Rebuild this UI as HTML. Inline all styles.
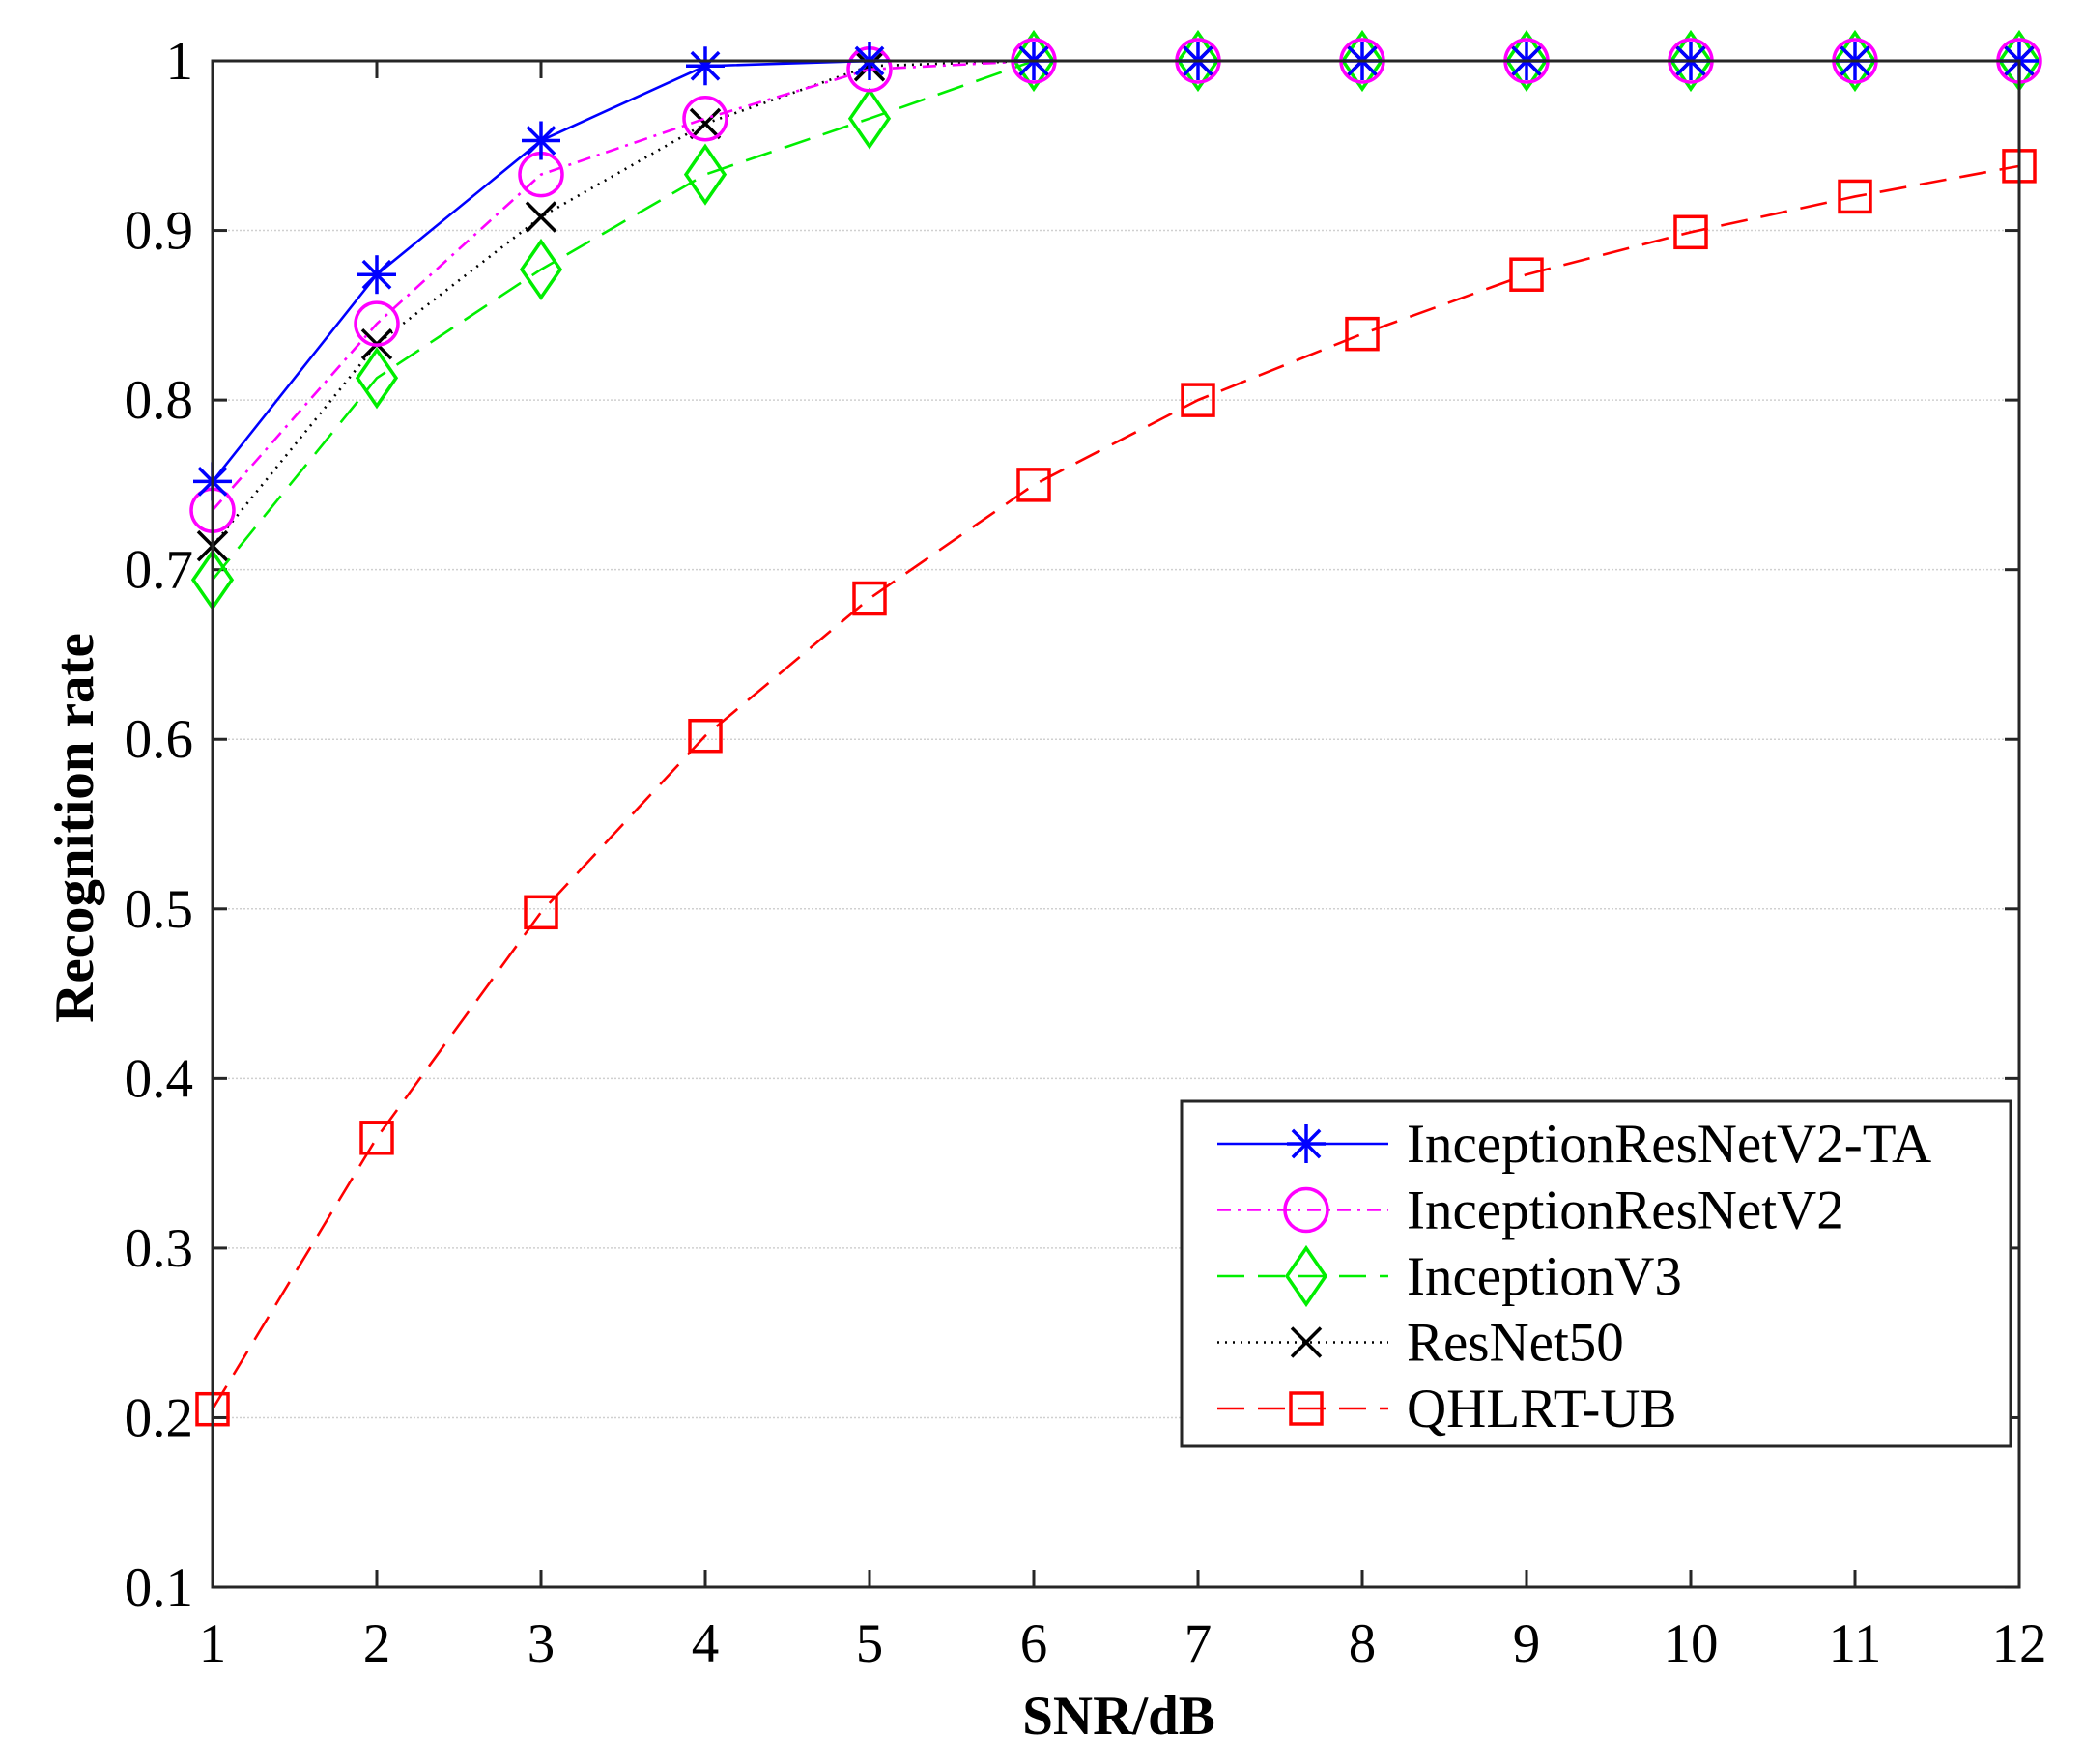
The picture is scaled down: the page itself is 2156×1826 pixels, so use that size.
<!DOCTYPE html>
<html><head><meta charset="utf-8"><style>body{margin:0;background:#fff}svg{display:block}</style></head>
<body>
<svg id="s" width="2156" height="1826" xmlns="http://www.w3.org/2000/svg" font-family="Liberation Serif, serif"></svg>
<script>
const s=document.getElementById('s');
const X=i=>220+(i-1)*170, Y=v=>63+(1-v)*1755.6;
let h='';
for(let k=1;k<=9;k++){const y=Y(0.1+k*0.1);h+=`<line x1="220" x2="2090" y1="${y}" y2="${y}" stroke="#d0d0d0" stroke-width="1.5" stroke-dasharray="2,2"/>`;}
for(let k=0;k<=9;k++){const v=(0.1+k*0.1),y=Y(v);h+=`<line x1="220" x2="235" y1="${y}" y2="${y}" stroke="#262626" stroke-width="3"/><line x1="2075" x2="2090" y1="${y}" y2="${y}" stroke="#262626" stroke-width="3"/>`;
h+=`<text x="200" y="${y+19}" font-size="57" text-anchor="end">${k==9?'1':v.toFixed(1)}</text>`;}
for(let i=1;i<=12;i++){const x=X(i);h+=`<line x1="${x}" x2="${x}" y1="63" y2="81" stroke="#262626" stroke-width="3"/><line x1="${x}" x2="${x}" y1="1625" y2="1643" stroke="#262626" stroke-width="3"/><text x="${x}" y="1720" font-size="57" text-anchor="middle">${i}</text>`;}
const D=[
{c:'#0000ff',d:'',m:'star',v:[0.752,0.874,0.953,0.997,1,1,1,1,1,1,1,1]},
{c:'#ff00ff',d:'14,7,3,7',m:'circ',v:[0.735,0.845,0.933,0.966,0.995,1,1,1,1,1,1,1]},
{c:'#00ee00',d:'28,14',m:'dia',v:[0.694,0.813,0.877,0.933,0.966,1,1,1,1,1,1,1]},
{c:'#000000',d:'2,6',m:'x',v:[0.714,0.833,0.908,0.963,0.997,1,1,1,1,1,1,1]},
{c:'#ff0000',d:'28,14',m:'sq',v:[0.205,0.365,0.498,0.602,0.683,0.75,0.8,0.839,0.874,0.899,0.92,0.938]}];
function mk(m,x,y,c){
 if(m=='star'){let r=20,o='';for(let a=0;a<4;a++){const t=a*Math.PI/4;o+=`<line x1="${x-r*Math.cos(t)}" y1="${y-r*Math.sin(t)}" x2="${x+r*Math.cos(t)}" y2="${y+r*Math.sin(t)}" stroke="${c}" stroke-width="3.5"/>`;}return o;}
 if(m=='circ')return `<circle cx="${x}" cy="${y}" r="22" fill="none" stroke="${c}" stroke-width="3.5"/>`;
 if(m=='dia')return `<polygon points="${x},${y-29} ${x+20},${y} ${x},${y+29} ${x-20},${y}" fill="none" stroke="${c}" stroke-width="3.5"/>`;
 if(m=='x'){const r=15;return `<path d="M${x-r},${y-r}L${x+r},${y+r}M${x-r},${y+r}L${x+r},${y-r}" stroke="${c}" stroke-width="3.5"/>`;}
 return `<rect x="${x-16}" y="${y-16}" width="32" height="32" fill="none" stroke="${c}" stroke-width="3.5"/>`;}
[4,3,2,1,0].forEach(j=>{const s_=D[j];const p=s_.v.map((v,i)=>X(i+1)+','+Y(v)).join(' ');
h+=`<polyline points="${p}" fill="none" stroke="${s_.c}" stroke-width="2.6" stroke-dasharray="${s_.d}"/>`;
s_.v.forEach((v,i)=>h+=mk(s_.m,X(i+1),Y(v),s_.c));});
h+=`<rect x="220" y="63" width="1870" height="1580" fill="none" stroke="#262626" stroke-width="3"/>`;
h+=`<rect x="1223" y="1140" width="858" height="357" fill="#fff" stroke="#262626" stroke-width="3"/>`;
const N=['InceptionResNetV2-TA','InceptionResNetV2','InceptionV3','ResNet50','QHLRT-UB'];
D.forEach((s_,j)=>{const y=1184+j*68.5;h+=`<line x1="1260" x2="1437" y1="${y}" y2="${y}" stroke="${s_.c}" stroke-width="2.6" stroke-dasharray="${s_.d}"/>`+mk(s_.m,1352,y,s_.c)+`<text x="1456" y="${y+19}" font-size="57">${N[j]}</text>`;});
h+=`<text x="1158" y="1795" font-size="57" font-weight="bold" text-anchor="middle">SNR/dB</text>`;
h+=`<text transform="translate(96,857) rotate(-90)" font-size="57" font-weight="bold" text-anchor="middle">Recognition rate</text>`;
s.innerHTML=h;
</script>
</body></html>
